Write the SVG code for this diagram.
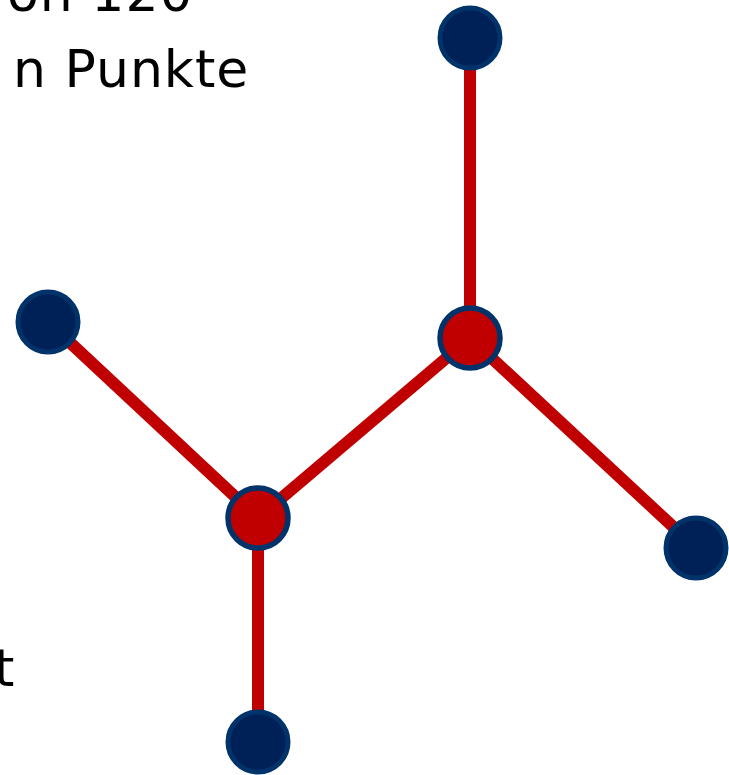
<svg xmlns="http://www.w3.org/2000/svg" width="729" height="775" viewBox="0 0 729 775">
  <style>
    .txt { font-family: "DejaVu Sans", Verdana, sans-serif; font-size: 52px; fill: #000000; letter-spacing: 1px; }
    .edge { stroke: #C00000; stroke-width: 12; fill: none; }
    .leaf { fill: #002157; stroke: #00336A; stroke-width: 5; }
    .hub { fill: #C00000; stroke: #00336A; stroke-width: 5.5; }
  </style>
  <rect width="729" height="775" fill="#ffffff"/>
  <g id="text">
    <text class="txt" x="7" y="11">on 120</text>
    <text class="txt" x="13" y="87">n Punkte</text>
    <text class="txt" x="-6" y="686">t</text>
  </g>
  <g id="connectors">
    <line class="edge" x1="470" y1="38" x2="470" y2="338"/>
    <line class="edge" x1="470" y1="338" x2="258" y2="518"/>
    <line class="edge" x1="470" y1="338" x2="696" y2="548"/>
    <line class="edge" x1="258" y1="518" x2="48" y2="322"/>
    <line class="edge" x1="258" y1="518" x2="258" y2="742"/>
  </g>
  <g id="node-top"><circle class="leaf" cx="470" cy="38" r="30"/></g>
  <g id="node-left"><circle class="leaf" cx="48" cy="322" r="30"/></g>
  <g id="node-right"><circle class="leaf" cx="696" cy="548" r="30"/></g>
  <g id="node-bottom"><circle class="leaf" cx="258" cy="742" r="30"/></g>
  <g id="hub-upper"><circle class="hub" cx="470" cy="338" r="30"/></g>
  <g id="hub-lower"><circle class="hub" cx="258" cy="518" r="30"/></g>
</svg>
